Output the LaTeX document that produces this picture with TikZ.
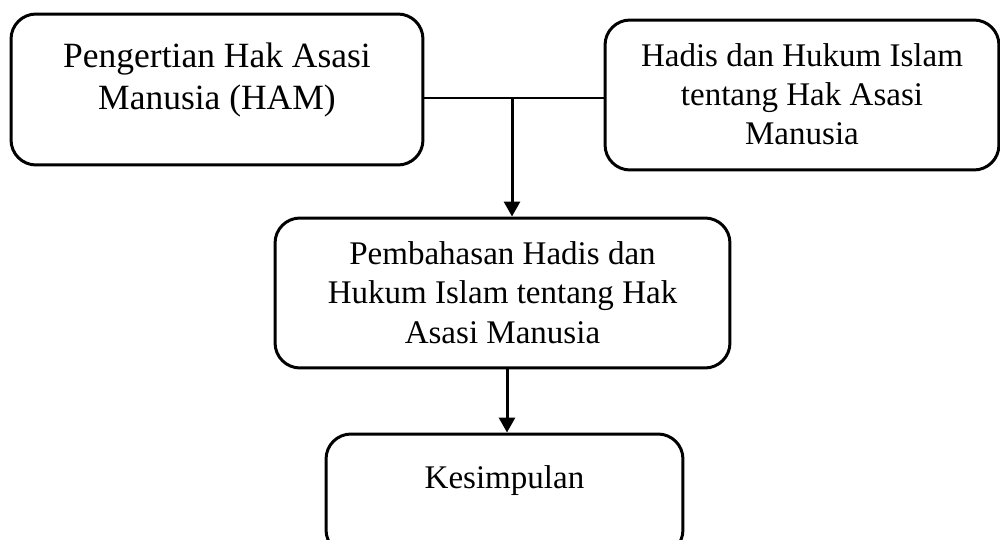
\documentclass[tikz,border=0pt]{standalone}
\usepackage{fontspec}
\setmainfont{Liberation Serif}
\usetikzlibrary{arrows.meta}
\begin{document}
\begin{tikzpicture}[x=0.02cm,y=-0.02cm,
  box/.style={draw=black,line width=1.7pt,rounded corners=0.5cm,inner sep=0pt},
  txt/.style={align=center,inner sep=0pt,font=\fontsize{18.8pt}{22.2pt}\selectfont},
  bigtxt/.style={align=center,inner sep=0pt,font=\fontsize{20.2pt}{23.9pt}\selectfont},
  conn/.style={line width=1.7pt},
  arr/.style={line width=1.7pt,-{Triangle[width=0.32cm,length=0.3cm]}}]
\useasboundingbox (0,0) rectangle (1000,540);
% boxes
\node[box,minimum width=8.24cm,minimum height=3.02cm] (b1) at (217,89.5) {};
\node[box,minimum width=7.88cm,minimum height=3.0cm] (b2) at (802,95) {};
\node[box,minimum width=9.1cm,minimum height=3.0cm] (b3) at (502.5,293) {};
\node[box,minimum width=7.14cm,minimum height=2.42cm] (b4) at (504.5,494.5) {};
% texts
\node[bigtxt] (t1) at (217,80) {Pengertian Hak Asasi\\Manusia (HAM)};
\node[txt] (t2) at (802,94.7) {Hadis dan Hukum Islam\\tentang Hak Asasi\\Manusia};
\node[txt] (t3) at (502.5,292.7) {Pembahasan Hadis dan\\Hukum Islam tentang Hak\\Asasi Manusia};
\node[txt] (t4) at (504.5,480.3) {Kesimpulan};
% connectors
\coordinate (j) at (512,98);
\coordinate (k) at (507,368);
\draw[conn] (b1.east |- j) -- (b2.west |- j);
\draw[arr] (j) -- (j |- b3.north);
\draw[arr] (k) -- (k |- b4.north);
\end{tikzpicture}
\end{document}
